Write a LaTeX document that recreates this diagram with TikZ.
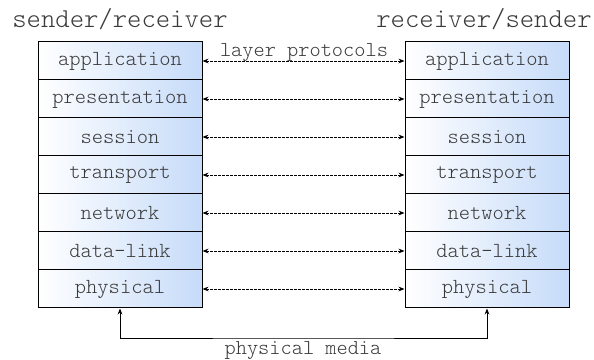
\documentclass[tikz,border=0pt]{standalone}
\usepackage{fontspec}
\newfontfamily\lightmono{Latin Modern Mono Light}
\usetikzlibrary{arrows.meta}
\definecolor{textgrey}{HTML}{3A3A3A}
\definecolor{layerblue}{HTML}{C6DBF9}
\tikzset{
  layer/.style={draw=black, line width=0.75pt, rectangle,
    minimum width=123pt, minimum height=28.5pt, inner sep=0pt,
    left color=white, right color=layerblue,
    font=\lightmono\fontsize{16.1}{18}\selectfont, text=textgrey},
  title/.style={font=\lightmono\fontsize{20.5}{23}\selectfont, text=textgrey, anchor=base, inner sep=0pt},
  caption/.style={font=\lightmono\fontsize{16}{18}\selectfont, text=textgrey, anchor=base, inner sep=0pt},
  peer/.style={dashed, dash pattern=on 2pt off 1pt, line width=0.6pt,
    {Stealth[length=4.5pt,width=3.5pt]}-{Stealth[length=4.5pt,width=3.5pt]}},
  media/.style={line width=0.6pt, {Stealth[length=4.5pt,width=3.5pt]}-{Stealth[length=4.5pt,width=3.5pt]}}
}
\begin{document}
\begin{tikzpicture}[x=0.75pt, y=-0.75pt]
  \useasboundingbox (0,0) rectangle (594,360);

  % column titles
  \node[title] (tl) at (120,28) {sender/receiver};
  \node[title] (tr) at (484,28) {receiver/sender};

  % the two protocol stacks
  \foreach \name [count=\i] in {application,presentation,session,transport,network,data-link,physical} {
    \node[layer] (L\i) at (120,{61+38*(\i-1)}) {\name};
    \node[layer] (R\i) at (487,{61+38*(\i-1)}) {\name};
  }

  % peer-to-peer protocol arrows
  \foreach \i in {1,...,7} {
    \draw[peer] (L\i.east) -- (R\i.west);
  }
  \node[caption] (lp) at (304,57) {layer protocols};

  % physical connection between the two stacks
  \coordinate (bus) at (303,338);
  \draw[media] (L7.south) |- (bus) -| (R7.south);
  \node[caption] (pm) at (303,354) {physical media};
\end{tikzpicture}
\end{document}
